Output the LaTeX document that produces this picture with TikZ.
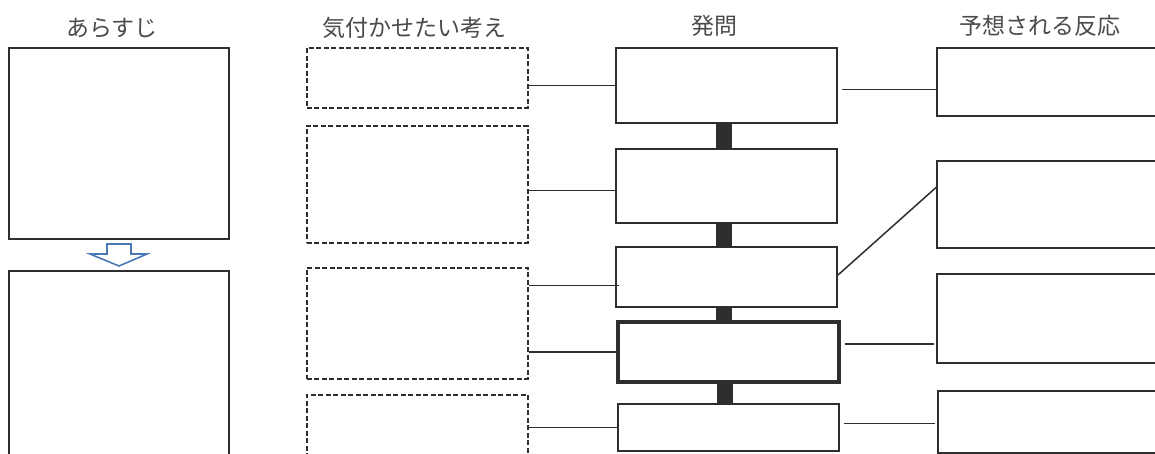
\documentclass[tikz,border=0pt]{standalone}
\usepackage{fontspec}
\usepackage{xcolor}
\usepackage{tikz}
\usetikzlibrary{positioning}
\newfontfamily\jpfont{Noto Sans CJK JP}
\definecolor{ink}{HTML}{2E2E2E}
\definecolor{headgray}{HTML}{4A4A4A}
\definecolor{arrowblue}{HTML}{4A78B8}

\tikzset{
  box/.style={draw=ink,line width=2pt,anchor=north west,inner sep=0pt},
  idea/.style={box,dash pattern=on 5pt off 2.5pt,line width=1.8pt},
  heading/.style={text=headgray,font=\jpfont\fontsize{23}{27}\selectfont},
  link/.style={draw=ink,line width=1.5pt},
  bar/.style={draw=ink,line width=16pt}
}

\begin{document}
\begin{tikzpicture}[x=1pt,y=-1pt]
        \useasboundingbox (0,0) rectangle (1155,454);
        \clip (0,0) rectangle (1155,454);
        % headings
        \node[heading] (hstory) at (112,28) {あらすじ};
        \node[heading] (hidea) at (414,28) {気付かせたい考え};
        \node[heading] (hask) at (714,26) {発問};
        \node[heading] (hresp) at (1040,26) {予想される反応};
        % story
        \node[box,minimum width=220pt,minimum height=191pt] (s1) at (8,47) {};
        \node[box,minimum width=220pt,minimum height=200pt] (s2) at (8,270) {};
        \draw[arrowblue,line width=1.6pt,line join=miter]
          (107,244) -- (131,244) -- (131,254) -- (147,254) -- (119,266)
          -- (90,254) -- (107,254) -- cycle;
        % ideas
        \node[idea,minimum width=221pt,minimum height=60pt] (d1) at (306,47) {};
        \node[idea,minimum width=221pt,minimum height=117pt] (d2) at (306,125) {};
        \node[idea,minimum width=221pt,minimum height=111pt] (d3) at (306,267) {};
        \node[idea,minimum width=221pt,minimum height=62pt] (d4) at (306,394) {};
        % questions
        \node[box,minimum width=221pt,minimum height=75pt] (q1) at (615,47) {};
        \node[box,minimum width=221pt,minimum height=74pt] (q2) at (615,148) {};
        \node[box,minimum width=221pt,minimum height=60pt] (q3) at (615,246) {};
        \node[box,line width=3.6pt,minimum width=221pt,minimum height=60pt] (q4) at (616,320) {};
        \node[box,minimum width=221pt,minimum height=47pt] (q5) at (617,403) {};
        \foreach \a/\b in {q1/q2,q2/q3,q3/q4,q4/q5}
          \draw[bar] ([xshift=-3pt]\a.south) -- ([xshift=-3pt]\a.south |- \b.north);
        % responses
        \node[box,minimum width=230pt,minimum height=68pt] (r1) at (936,47) {};
        \node[box,minimum width=230pt,minimum height=87pt] (r2) at (936,160) {};
        \node[box,minimum width=230pt,minimum height=89pt] (r3) at (936,273) {};
        \node[box,minimum width=230pt,minimum height=62pt] (r4) at (937,390) {};
        % links
        \draw[link] (d1.east |- q1.west) -- (q1.west);
        \draw[link] ([yshift=-6pt]d2.east) -- ([yshift=-6pt]d2.east -| q2.west);
        \draw[link] ([yshift=38pt]d3.east) -- ([yshift=38pt,xshift=4pt]d3.east -| q3.west);
        \draw[link] (d3.east |- q4.west) -- (q4.west);
        \draw[link] (d4.east |- q5.west) -- (q5.west);
        \draw[link] ([xshift=4pt,yshift=-4pt]q1.east) -- ([yshift=-4pt]q1.east -| r1.west);
        \draw[link] ([yshift=2pt]q3.east) -- ([yshift=17pt]r2.west);
        \draw[link] ([xshift=4pt,yshift=8pt]q4.east) -- ([xshift=-2pt,yshift=8pt]q4.east -| r3.west);
        \draw[link] ([xshift=4pt,yshift=4pt]q5.east) -- ([xshift=-2pt,yshift=4pt]q5.east -| r4.west);
      \end{tikzpicture}
\end{document}
